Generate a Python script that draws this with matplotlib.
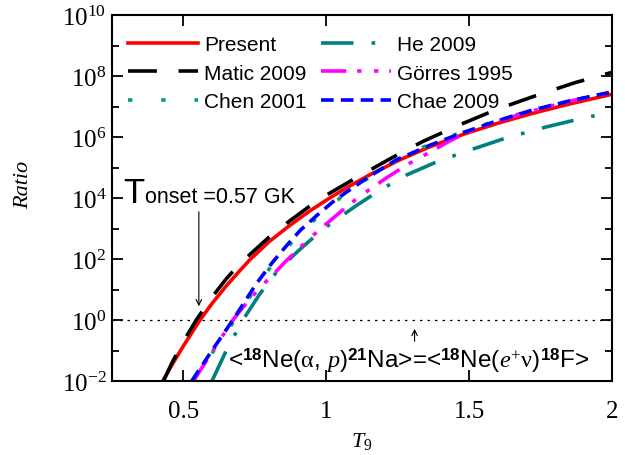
import numpy as np
import matplotlib
matplotlib.use('Agg')
import matplotlib.pyplot as plt
from matplotlib.ticker import FixedLocator, NullFormatter, LogFormatterMathtext, FuncFormatter

plt.rcParams['font.family'] = 'Liberation Serif'
plt.rcParams['mathtext.fontset'] = 'custom'
plt.rcParams['mathtext.rm'] = 'Liberation Serif'
plt.rcParams['mathtext.it'] = 'Liberation Serif:italic'
plt.rcParams['mathtext.bf'] = 'Liberation Sans:bold'

SANS = 'Liberation Sans'

# ---- data (T9, log10 ratio) ----
t_present = [0.428, 0.46, 0.50, 0.558, 0.60, 0.65, 0.70, 0.733, 0.80, 0.872, 0.94, 1.005, 1.07,
             1.15, 1.257, 1.36, 1.48, 1.60, 1.716, 1.85, 2.0]
l_present = [-2.0, -1.47, -0.85, 0.0, 0.54, 1.12, 1.645, 1.98, 2.57, 3.10, 3.56, 3.96, 4.33,
             4.75, 5.25, 5.67, 6.09, 6.45, 6.76, 7.08, 7.40]

t_matic = [0.43, 0.46, 0.50, 0.545, 0.60, 0.65, 0.70, 0.733, 0.80, 0.872, 0.94, 1.005, 1.093,
           1.222, 1.337, 1.467, 1.595, 1.747, 1.87, 2.0]
l_matic = [-2.0, -1.4, -0.7, 0.0, 0.75, 1.35, 1.87, 2.15, 2.72, 3.25, 3.72, 4.12, 4.6,
           5.28, 5.85, 6.4, 6.9, 7.4, 7.78, 8.12]

t_chen = [0.535, 0.61, 0.68, 0.76, 0.81, 0.87, 0.92, 0.97, 1.02, 1.07, 1.15, 1.245, 1.36,
          1.48, 1.60, 1.72, 1.85, 2.0]
l_chen = [-2.0, -0.95, 0.0, 1.15, 1.8, 2.45, 2.95, 3.38, 3.8, 4.15, 4.68, 5.23, 5.76,
          6.18, 6.55, 6.88, 7.18, 7.45]

t_he = [0.60, 0.65, 0.708, 0.767, 0.82, 0.861, 0.90, 0.942, 1.0, 1.047, 1.105, 1.19, 1.28,
        1.39, 1.502, 1.63, 1.77, 1.89, 2.0]
l_he = [-2.0, -1.0, 0.0, 0.85, 1.5, 1.9, 2.25, 2.6, 3.05, 3.37, 3.75, 4.27, 4.75,
        5.2, 5.57, 5.97, 6.33, 6.6, 6.82]

t_gorres = [0.535, 0.60, 0.673, 0.72, 0.767, 0.82, 0.861, 0.90, 0.942, 1.0, 1.082, 1.15, 1.222,
            1.29, 1.362, 1.43, 1.50, 1.60, 1.70, 1.85, 2.0]
l_gorres = [-2.0, -1.05, 0.0, 0.55, 1.05, 1.55, 1.95, 2.3, 2.68, 3.15, 3.8, 4.27, 4.73,
            5.13, 5.5, 5.86, 6.18, 6.52, 6.8, 7.17, 7.47]

t_chae = [0.529, 0.60, 0.673, 0.756, 0.81, 0.861, 0.91, 0.966, 1.02, 1.07, 1.15, 1.245, 1.36,
          1.48, 1.595, 1.72, 1.85, 2.0]
l_chae = [-2.0, -1.0, 0.0, 1.2, 1.87, 2.44, 2.95, 3.42, 3.85, 4.19, 4.7, 5.25, 5.72,
          6.15, 6.52, 6.88, 7.18, 7.48]

x_ticks = [0.5, 1.0, 1.5, 2.0]

fig = plt.figure(figsize=(6.25, 4.56), dpi=100)
ax = fig.add_axes([112/625, 1-382/456, 500/625, 366/456])

def curve(t, l, **kw):
    ax.plot(t, 10.0**np.array(l), **kw)

curve(t_present, l_present, color='#FF0000', lw=2.6, label='Present')
curve(t_matic, l_matic, color='black', lw=2.6, dashes=(8, 6), label='Matic 2009')
curve(t_chen, l_chen, color='#00A651', lw=2.6, dashes=(1.2, 8), label='Chen 2001')
curve(t_he, l_he, color='#008080', lw=2.6, dashes=(9, 5, 1, 5), label='He 2009')
curve(t_gorres, l_gorres, color='#FF00FF', lw=2.6, dashes=(7, 3, 1.2, 3.5, 1.2, 3), label='Görres 1995')
curve(t_chae, l_chae, color='#0000FF', lw=2.6, dashes=(3.5, 2), label='Chae 2009')

ax.axhline(1.0, color='black', lw=0.9, dashes=(2, 4), zorder=1)

ax.set_yscale('log')
ax.set_xlim(0.25, 2.0)
ax.set_ylim(1e-2, 1e10)

ax.yaxis.set_major_locator(FixedLocator(10.0**np.arange(-2, 11, 2)))
ax.yaxis.set_minor_locator(FixedLocator(10.0**np.arange(-1, 10, 2)))
ax.yaxis.set_major_formatter(LogFormatterMathtext())
ax.yaxis.set_minor_formatter(NullFormatter())
ax.xaxis.set_major_locator(FixedLocator(x_ticks))
ax.xaxis.set_major_formatter(FuncFormatter(lambda v, p: '%g' % v))

ax.tick_params(which='both', direction='in', top=True, right=True, width=1.3)
ax.tick_params(which='major', length=8, labelsize=18)
ax.tick_params(which='minor', length=5)
ax.tick_params(axis='x', pad=14)
ax.tick_params(axis='y', pad=4)
for s in ax.spines.values():
    s.set_linewidth(1.5)

ax.set_xlabel(r'$T_9$', fontsize=16)
ax.set_ylabel('Ratio', fontsize=16, style='italic')
ax.xaxis.set_label_coords(0.5, -0.135)
ax.yaxis.set_label_coords(-0.158, 0.538)

ax.legend(loc='upper left', bbox_to_anchor=(0.032, 0.945), ncol=2, frameon=False,
          prop={'family': SANS, 'size': 15}, handlelength=3.36, handletextpad=0.3,
          columnspacing=0.67, labelspacing=0.45, borderaxespad=0, borderpad=0)

# onset annotation
ax.text(0.288, 10**3.87, 'T', fontsize=25, family=SANS, va='baseline', ha='left')
ax.text(0.365, 10**3.87, 'onset =0.57 GK', fontsize=15.5, family=SANS, va='baseline', ha='left')
ax.annotate('', xy=(0.554, 10**0.36), xytext=(0.554, 10**3.64),
            arrowprops=dict(arrowstyle='->', lw=0.8, color='black', mutation_scale=10))

ax.annotate('', xy=(1.309, 10**-0.2), xytext=(1.309, 10**-0.79),
            arrowprops=dict(arrowstyle='->', lw=0.8, color='black', mutation_scale=10))
ax.text(0.656, 10**-1.54,
        r'<$^{\mathbf{18}}$Ne($\mathrm{\alpha}$, $p$)$^{\mathbf{21}}$Na>=<$^{\mathbf{18}}$Ne($e^{+}\mathrm{\nu}$)$^{\mathbf{18}}$F>',
        fontsize=17.5, family=SANS, va='baseline', ha='left')

fig.savefig('out.png', dpi=100)
